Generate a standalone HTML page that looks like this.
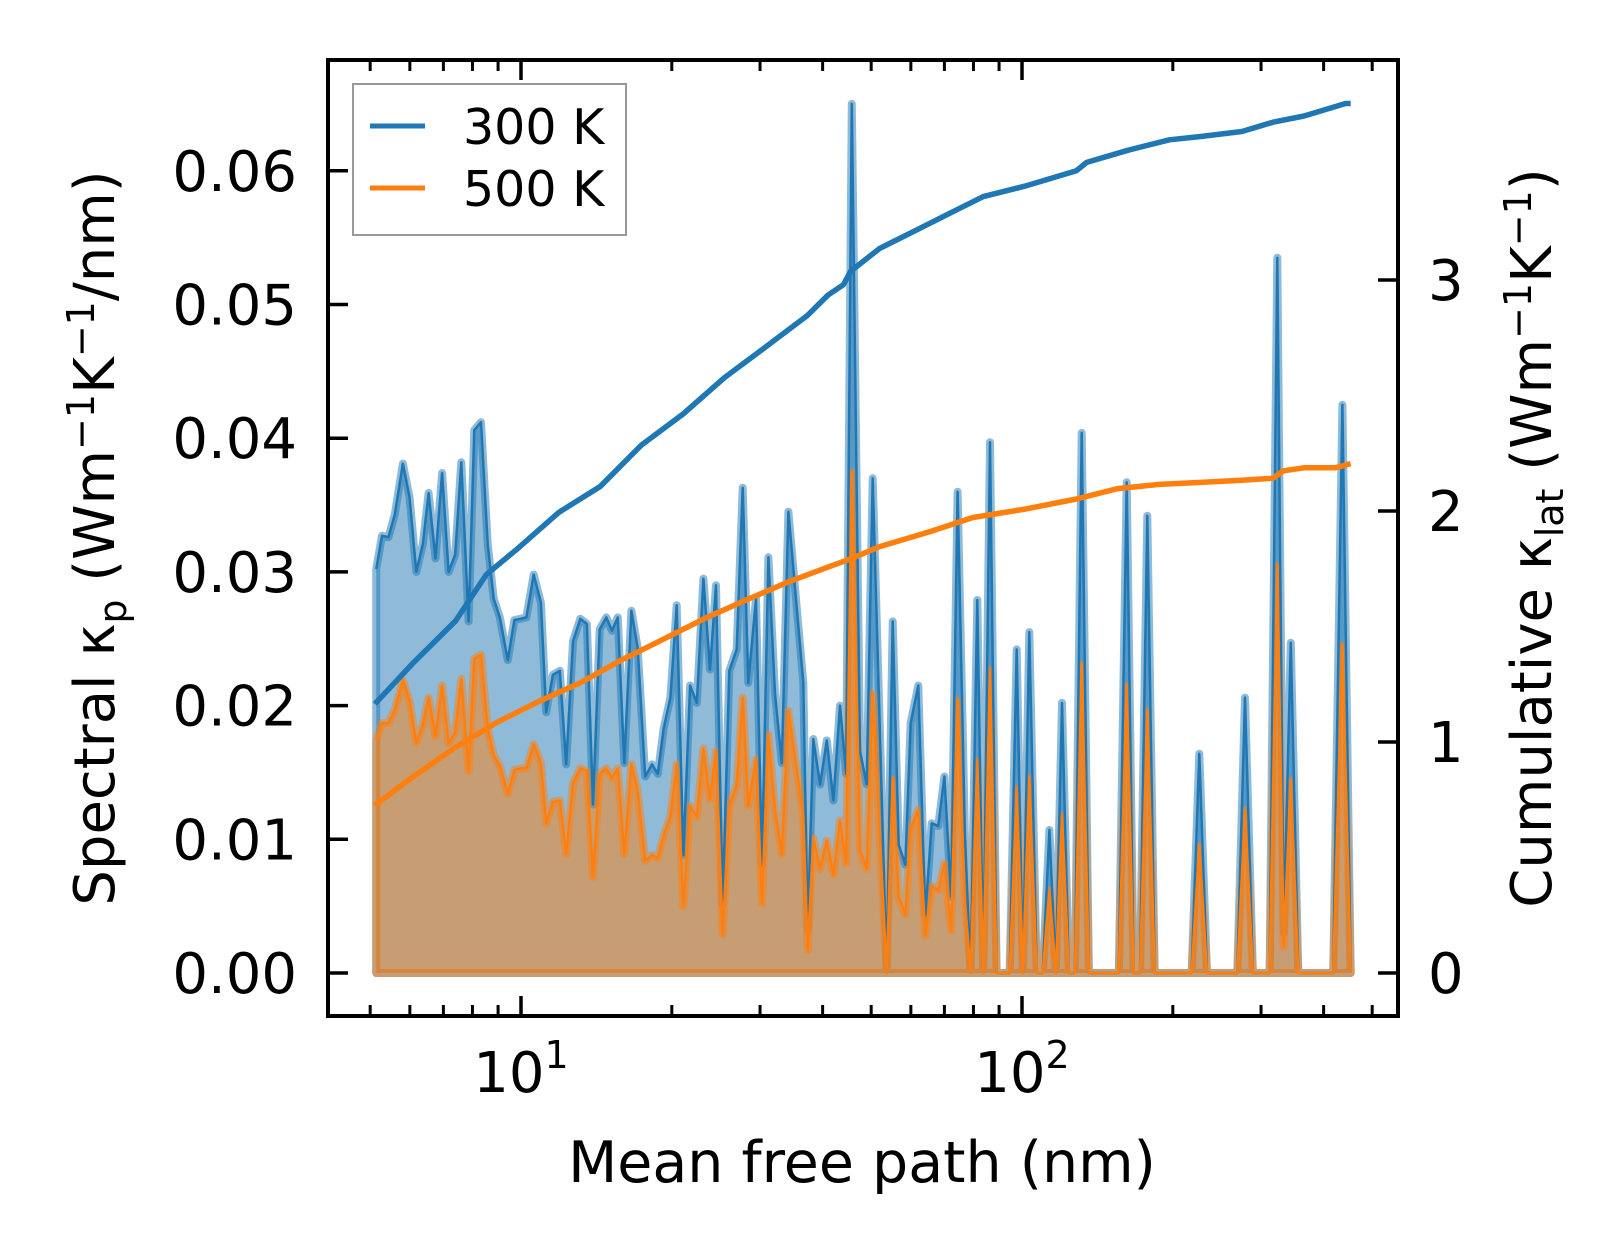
<!DOCTYPE html>
<html><head><meta charset="utf-8"><style>
html,body{margin:0;padding:0;background:#fff;}
svg{display:block;font-family:"DejaVu Sans","Liberation Sans",sans-serif;}
</style></head><body>
<svg id="chart" width="1623" height="1254" viewBox="0 0 1623 1254" xmlns="http://www.w3.org/2000/svg">
<rect x="0" y="0" width="1623" height="1254" fill="#fff"/>
<g id="marks"></g>
<g id="axes"></g>
<text x="862" y="1182" font-size="57" text-anchor="middle">Mean free path (nm)</text>
<text transform="translate(114,538) rotate(-90)" font-size="56" text-anchor="middle">Spectral κ<tspan font-size="38" dy="12">p</tspan><tspan dy="-12"> (Wm</tspan><tspan font-size="38" dy="-20">−1</tspan><tspan dy="20">K</tspan><tspan font-size="38" dy="-20">−1</tspan><tspan dy="20">/nm)</tspan></text>
<text transform="translate(1551,538) rotate(-90)" font-size="56" text-anchor="middle">Cumulative κ<tspan font-size="38" dy="12">lat</tspan><tspan dy="-12"> (Wm</tspan><tspan font-size="38" dy="-20">−1</tspan><tspan dy="20">K</tspan><tspan font-size="38" dy="-20">−1</tspan><tspan dy="20">)</tspan></text>
<g>
<rect x="353" y="84" width="273" height="151" fill="#fff" stroke="#999" stroke-width="2"/>
<line x1="370" y1="126" x2="425" y2="126" stroke="#1f77b4" stroke-width="5"/>
<text x="463" y="144" font-size="49">300 K</text>
<line x1="370" y1="188" x2="425" y2="188" stroke="#ff7f0e" stroke-width="5"/>
<text x="463" y="206" font-size="49">500 K</text>
</g>
</svg>
<script>
const mfp = [5.14,5.28,5.44,5.60,5.81,5.99,6.18,6.37,6.54,6.75,6.96,7.17,7.39,7.60,7.86,8.07,8.32,8.58,8.82,9.07,9.41,9.70,10.0,10.25,10.60,10.96,11.23,11.58,11.95,12.31,12.70,13.13,13.54,13.92,14.36,14.80,15.19,15.60,16.08,16.61,17.10,17.70,18.26,18.75,19.27,19.87,
20.45,21.09,21.75,22.43,23.12,23.84,24.50,25.27,26.05,26.95,27.70,28.43,29.45,30.27,31.17,32.14,33.15,34.17,36.60,37.35,38.32,39.53,40.77,42.03,43.33,44.55,45.73,47.50,48.98,50.35,53.70,55.20,56.74,58.49,59.95,62.09,64.12,66.04,68.08,69.99,72.18,74.38,76.92,78.96,81.42,83.72,86.33,
89.0,94.5,97.6,100.4,103.4,107,110,113.4,116.8,120.2,124,127.5,131.6,136,156,161.8,167,172,177.9,184,218,225.9,234,269,278.7,289,312,323.3,333,343.9,356,418,436,453];
const kappa300 = [0.0302,0.0327,0.0326,0.0343,0.0381,0.0356,0.0300,0.0321,0.0359,0.0310,0.0374,0.0300,0.0313,0.0382,0.0263,0.0406,0.0412,0.0321,0.0280,0.0266,0.0234,0.0264,0.0265,0.0266,0.0298,0.0277,0.0195,0.0223,0.0226,0.0156,0.0248,0.0265,0.0261,0.0126,0.0257,0.0266,0.0256,0.0266,0.0157,0.0271,0.0243,0.0147,0.0156,0.0149,0.0183,0.0206,
0.0275,0.0088,0.0215,0.0202,0.0295,0.0227,0.0290,0.0051,0.0226,0.0242,0.0363,0.0217,0.0280,0.0081,0.0311,0.0209,0.0157,0.0345,0.0217,0.0032,0.0175,0.0141,0.0174,0.0129,0.0200,0.0149,0.0650,0.0166,0.0141,0.0370,0.0,0.0263,0.0096,0.0081,0.0187,0.0215,0.0043,0.0112,0.0110,0.0147,0.0057,0.0360,0.0103,0.0,0.0279,0.0,0.0397,
0,0,0.0242,0,0.0255,0,0,0.0107,0,0.0202,0,0,0.0404,0,0,0.0367,0,0,0.0342,0,0,0.0164,0,0,0.0206,0,0,0.0535,0.003,0.0247,0,0,0.0425,0];
const kappa500 = [0.0174,0.0187,0.0187,0.0197,0.0219,0.0204,0.0172,0.0186,0.0206,0.0177,0.0215,0.0172,0.0180,0.0220,0.0151,0.0235,0.0238,0.0183,0.0163,0.0155,0.0134,0.0152,0.0153,0.0153,0.0171,0.0157,0.0112,0.0128,0.0129,0.0089,0.0142,0.0153,0.0151,0.0072,0.0149,0.0153,0.0146,0.0153,0.0089,0.0156,0.0136,0.0084,0.0088,0.0086,0.0103,0.0117,
0.0156,0.0050,0.0125,0.0117,0.0168,0.0130,0.0166,0.0029,0.0125,0.0141,0.0206,0.0125,0.0160,0.0052,0.0178,0.0122,0.0089,0.0196,0.0117,0.0017,0.0101,0.0078,0.0099,0.0074,0.0114,0.0082,0.0375,0.0092,0.0078,0.0209,0.0,0.0145,0.0057,0.0044,0.0108,0.0122,0.0028,0.0065,0.0062,0.0082,0.0032,0.0204,0.0054,0.0,0.0159,0.0,0.0227,
0,0,0.0138,0,0.0146,0,0,0.0062,0,0.0118,0,0,0.0231,0,0,0.0215,0,0,0.0196,0,0,0.0095,0,0,0.0122,0,0,0.0305,0.002,0.0144,0,0,0.0245,0];
const cumMfp300 = [5.11,6.11,7.40,8.53,9.84,11.90,14.39,17.41,21.06,25.47,30.81,37.27,41.01,44.02,45.5,52.0,59.97,72.56,83.7,101.2,128.4,134.6,162.9,197.0,227.3,274.8,316.9,365.5,442.4,453];
const cum300 = [1.165,1.345,1.524,1.725,1.837,1.994,2.106,2.286,2.420,2.577,2.711,2.846,2.935,2.980,3.038,3.137,3.204,3.294,3.361,3.406,3.473,3.509,3.562,3.607,3.621,3.643,3.683,3.710,3.764,3.764];
const cumMfp500 = [5.11,6.11,7.40,8.95,10.82,13.09,15.84,19.15,23.17,28.03,33.89,41.01,45.5,52.0,66.0,79.8,101.2,128.4,155.3,187.9,227.3,274.8,316.9,332.5,365.5,421.7,453];
const cum500 = [0.726,0.852,0.977,1.085,1.174,1.255,1.354,1.443,1.533,1.613,1.690,1.757,1.793,1.846,1.913,1.972,2.008,2.052,2.097,2.115,2.124,2.133,2.142,2.174,2.187,2.187,2.205];
const leftTicks = [0,0.01,0.02,0.03,0.04,0.05,0.06];
const leftTickLabels = ["0.00","0.01","0.02","0.03","0.04","0.05","0.06"];
const rightTicks = [0,1,2,3];
const xMajor = [10,100];
const xMajorExp = ["1","2"];
const xMinor = [5,6,7,8,9,20,30,40,50,60,70,80,90,200,300,400,500];

const NS = "http://www.w3.org/2000/svg";
const X0 = 328, X1 = 1398, Y0 = 60, Y1 = 1016;
function xs(v){ return 521 + (Math.log10(v) - 1) * 501; }
function yl(v){ return 973 - v * 13370; }
function yr(v){ return 973 - v * 231; }
function mk(tag, attrs, parent){
  const e = document.createElementNS(NS, tag);
  for (const k in attrs) e.setAttribute(k, attrs[k]);
  parent.appendChild(e);
  return e;
}
const marks = document.getElementById('marks');
const axes = document.getElementById('axes');
const cp = mk('clipPath', {id:'plotclip'}, marks);
mk('rect', {x:X0, y:Y0, width:X1-X0, height:Y1-Y0}, cp);
const plotG = mk('g', {'clip-path':'url(#plotclip)'}, marks);

function areaPath(xsArr, ysArr){
  let d = 'M' + xs(xsArr[0]).toFixed(1) + ',' + yl(0).toFixed(1);
  for (let i = 0; i < xsArr.length; i++) d += 'L' + xs(xsArr[i]).toFixed(1) + ',' + yl(ysArr[i]).toFixed(1);
  d += 'L' + xs(xsArr[xsArr.length-1]).toFixed(1) + ',' + yl(0).toFixed(1) + 'Z';
  return d;
}
function linePath(xsArr, ysArr, yf){
  let d = '';
  for (let i = 0; i < xsArr.length; i++) d += (i ? 'L' : 'M') + xs(xsArr[i]).toFixed(1) + ',' + yf(ysArr[i]).toFixed(1);
  return d;
}
const a300 = mk('path', {d: areaPath(mfp, kappa300), fill:'#1f77b4', 'fill-opacity':'0.5', stroke:'#1f77b4', 'stroke-opacity':'0.5', 'stroke-width':'8', 'stroke-linejoin':'round'}, plotG);


const a500 = mk('path', {d: areaPath(mfp, kappa500), fill:'#ff7f0e', 'fill-opacity':'0.5', stroke:'#ff7f0e', 'stroke-opacity':'0.5', 'stroke-width':'8', 'stroke-linejoin':'round'}, plotG);


const l300 = mk('path', {d: linePath(mfp, kappa300, yl), fill:'none', stroke:'#1f77b4', 'stroke-width':'2.5', 'stroke-linejoin':'round'}, plotG);


const l500 = mk('path', {d: linePath(mfp, kappa500, yl), fill:'none', stroke:'#ff7f0e', 'stroke-width':'2.5', 'stroke-linejoin':'round'}, plotG);


const c300 = mk('path', {d: linePath(cumMfp300, cum300, yr), fill:'none', stroke:'#1f77b4', 'stroke-width':'5.5', 'stroke-linejoin':'round'}, plotG);


const c500 = mk('path', {d: linePath(cumMfp500, cum500, yr), fill:'none', stroke:'#ff7f0e', 'stroke-width':'5.5', 'stroke-linejoin':'round'}, plotG);



leftTicks.forEach((v, i) => {
  const y = yl(v);
  const t = mk('line', {x1:X0, y1:y, x2:X0+20, y2:y, stroke:'#000', 'stroke-width':'3.5'}, axes);
  
  
  const lb = mk('text', {x:297, y:y+20, 'font-size':'56', 'text-anchor':'end'}, axes);
  lb.textContent = leftTickLabels[i];
  
  
});
rightTicks.forEach(v => {
  const y = yr(v);
  const t = mk('line', {x1:X1-20, y1:y, x2:X1, y2:y, stroke:'#000', 'stroke-width':'3.5'}, axes);
  
  
  const lb = mk('text', {x:1428, y:y+20, 'font-size':'56'}, axes);
  lb.textContent = String(v);
  
  
});
xMajor.forEach((v, i) => {
  const x = xs(v);
  const tb = mk('line', {x1:x, y1:Y1, x2:x, y2:Y1-20, stroke:'#000', 'stroke-width':'3.5'}, axes);
  
  
  const tt = mk('line', {x1:x, y1:Y0, x2:x, y2:Y0+20, stroke:'#000', 'stroke-width':'3.5'}, axes);
  
  
  const lb = mk('text', {x:x, y:1092, 'font-size':'56', 'text-anchor':'middle'}, axes);
  
  
  const t1 = mk('tspan', {}, lb); t1.textContent = '10';
  const t2 = mk('tspan', {'font-size':'38', dy:'-24'}, lb); t2.textContent = xMajorExp[i];
});
xMinor.forEach(v => {
  const x = xs(v);
  const tb = mk('line', {x1:x, y1:Y1, x2:x, y2:Y1-11, stroke:'#000', 'stroke-width':'3'}, axes);
  
  
  const tt = mk('line', {x1:x, y1:Y0, x2:x, y2:Y0+11, stroke:'#000', 'stroke-width':'3'}, axes);
  
  
});
const frame = mk('rect', {x:X0, y:Y0, width:X1-X0, height:Y1-Y0, fill:'none', stroke:'#000', 'stroke-width':'4'}, axes);


</script>
</body></html>
